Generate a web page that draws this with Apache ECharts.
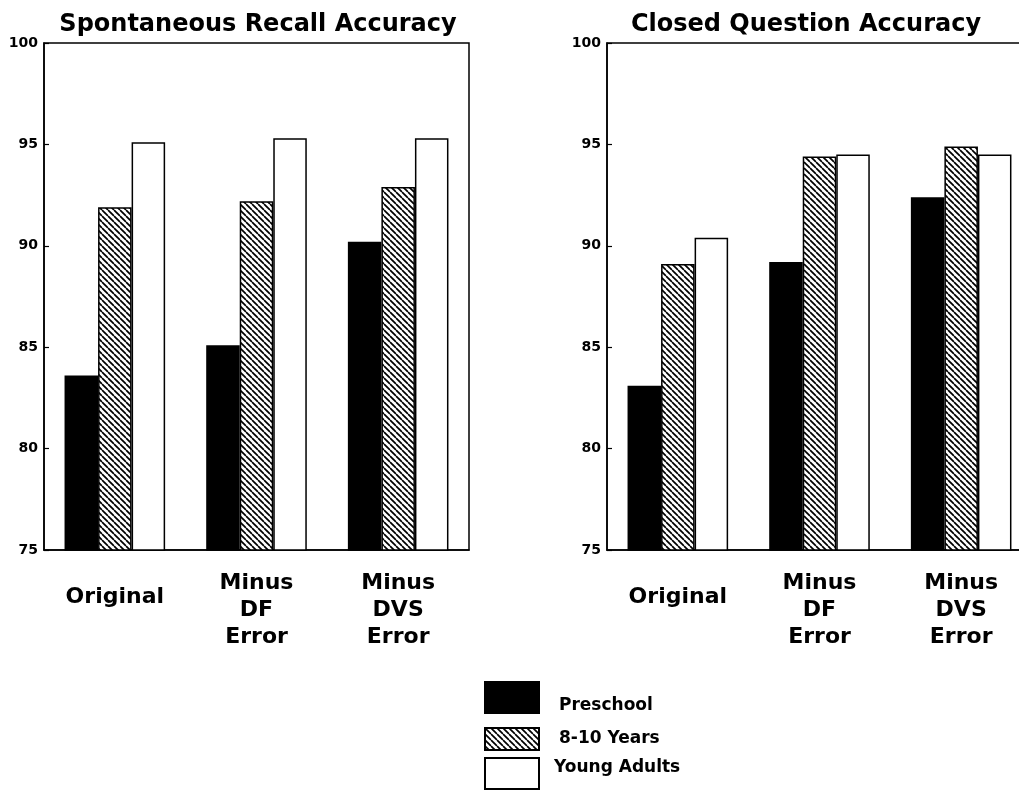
<!DOCTYPE html>
<html>
<head>
<meta charset="utf-8">
<script src="https://cdn.jsdelivr.net/npm/echarts@6/dist/echarts.min.js"></script>
<style>
html,body{margin:0;padding:0;background:#fff;overflow:hidden;width:1019px;height:790px;}
#chart{width:1045px;height:790px;}
</style>
</head>
<body>
<div id="chart"></div>
<script>
// ---- data ----
const categories = ['Original', 'Minus\nDF\nError', 'Minus\nDVS\nError'];
const groups = ['Preschool', '8-10 Years', 'Young Adults'];
const titles = ['Spontaneous Recall Accuracy', 'Closed Question Accuracy'];
const recallPreschool = [83.6, 85.1, 90.2];
const recallChildren  = [91.9, 92.2, 92.9];
const recallAdults    = [95.1, 95.3, 95.3];
const closedPreschool = [83.1, 89.2, 92.4];
const closedChildren  = [89.1, 94.4, 94.9];
const closedAdults    = [90.4, 94.5, 94.5];
const yMin = 75, yMax = 100, yStep = 5;

// ---- hatch pattern ----
const hc = document.createElement('canvas');
hc.width = 6; hc.height = 6;
const hx = hc.getContext('2d');
hx.fillStyle = '#fff'; hx.fillRect(0, 0, 6, 6);
hx.strokeStyle = '#000'; hx.lineWidth = 1.7;
[-6, 0, 6].forEach(o => { hx.beginPath(); hx.moveTo(o, 0); hx.lineTo(o + 6, 6); hx.stroke(); });
const hatch = { image: hc, repeat: 'repeat' };

const FONT = 'DejaVu Sans';
const fills = ['#000', hatch, '#fff'];

const chart = echarts.init(document.getElementById('chart'), null, { renderer: 'canvas' });

const grids = [
  { left: 44, top: 43, width: 425, height: 507 },
  { left: 607, top: 43, width: 425, height: 507 }
];
function xAxis(i) {
  return {
    type: 'category', gridIndex: i, data: categories,
    axisLine: { show: true, lineStyle: { color: '#000', width: 1.5 } },
    axisTick: { show: false },
    axisLabel: {
      color: '#000', fontFamily: FONT, fontWeight: 'bold', fontSize: 22,
      lineHeight: 27, margin: 20, interval: 0,
      formatter: v => v.indexOf('\n') < 0 ? '{o|' + v + '}' : v,
      rich: { o: { lineHeight: 54, fontFamily: FONT, fontWeight: 'bold', fontSize: 22, color: '#000' } }
    }
  };
}
function yAxis(i) {
  return {
    type: 'value', gridIndex: i, min: yMin, max: yMax, interval: yStep,
    axisLine: { show: true, lineStyle: { color: '#000', width: 1.5 } },
    axisTick: { show: true, inside: true, length: 5, lineStyle: { color: '#000', width: 1.2 } },
    splitLine: { show: false },
    axisLabel: { color: '#000', fontFamily: FONT, fontWeight: 'bold', fontSize: 14, margin: 6 }
  };
}
const panelData = [
  [recallPreschool, recallChildren, recallAdults],
  [closedPreschool, closedChildren, closedAdults]
];
const series = [];
panelData.forEach((sets, gi) => {
  sets.forEach((vals, si) => {
    series.push({
      type: 'bar', name: groups[si], xAxisIndex: gi, yAxisIndex: gi,
      data: vals, barGap: '0%', barCategoryGap: '29%',
      itemStyle: { color: fills[si], borderColor: '#000', borderWidth: 1.5 },
      emphasis: { disabled: true }
    });
  });
});
function legend(name, top, h, pad) {
  return {
    data: [name], left: 484, top: top, itemWidth: 54, itemHeight: h,
    icon: 'rect', selectedMode: false, padding: 0,
    formatter: n => '{t|' + n + '}',
    textStyle: {
      color: '#000', fontFamily: FONT, fontWeight: 'bold', fontSize: 17,
      rich: { t: { color: '#000', fontFamily: FONT, fontWeight: 'bold', fontSize: 17, padding: pad } }
    }
  };
}
chart.setOption({
  animation: false,
  backgroundColor: '#fff',
  title: titles.map((t, i) => ({
    text: t, left: i === 0 ? 253 : 801, top: 8, textAlign: 'center',
    textStyle: { color: '#000', fontFamily: FONT, fontWeight: 'bold', fontSize: 24 }
  })),
  grid: grids.map(g => Object.assign({ show: true, borderColor: '#000', borderWidth: 1.5, backgroundColor: 'transparent' }, g)),
  xAxis: [xAxis(0), xAxis(1)],
  yAxis: [yAxis(0), yAxis(1)],
  legend: [
    legend(groups[0], 681, 31, [17, 0, 0, 15]),
    legend(groups[1], 727, 22, [0, 0, 0, 15]),
    legend(groups[2], 757, 31, [0, 0, 12, 10])
  ],
  series: series
});
</script>
</body>
</html>
